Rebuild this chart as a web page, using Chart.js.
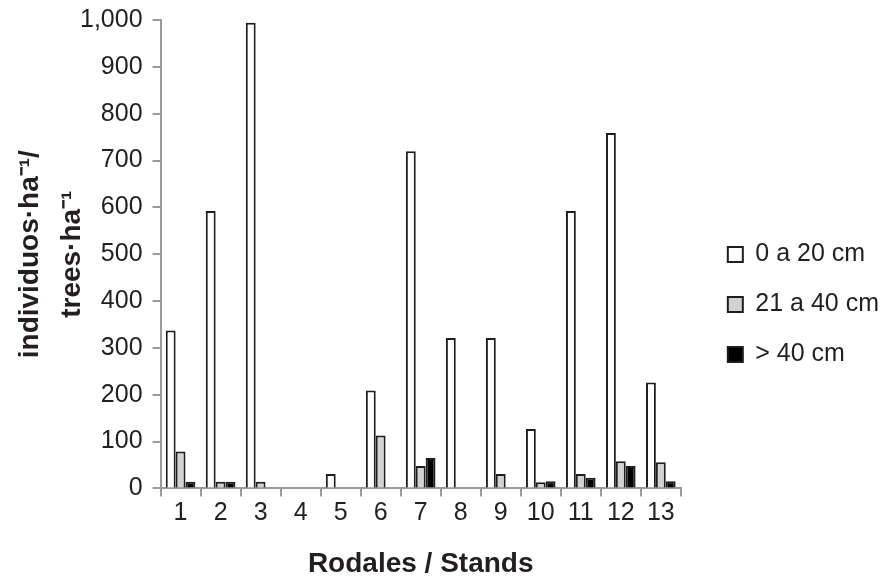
<!DOCTYPE html>
<html lang="es">
<head>
  <meta charset="UTF-8" />
  <title>Individuos por rodal</title>
  <script src="https://cdn.jsdelivr.net/npm/chart.js"></script>
  <style>
    body { margin: 0; background: #fff; }
    .wrap { width: 884px; height: 578px; position: relative; }
  </style>
</head>
<body>
  <div class="wrap"><canvas id="chart"></canvas></div>

  <script>
    // datos
    const rodales = ['1', '2', '3', '4', '5', '6', '7', '8', '9', '10', '11', '12', '13'];
    const clase0a20 = [337, 592, 994, 0, 31, 209, 720, 321, 321, 127, 592, 759, 226];
    const clase21a40 = [79, 14, 14, 0, 0, 113, 48, 0, 31, 13, 31, 58, 56];
    const claseMas40 = [14, 14, 0, 0, 0, 0, 65, 0, 0, 15, 23, 48, 15];

    const ink = '#231f20';
    const axisGray = '#9a9a9a';
    const fontName = "'Liberation Sans', Arial, sans-serif";

    // separa la leyenda del área del gráfico (como en la figura original)
    const legendGap = 22;
    const legendShift = {
      id: 'legendShift',
      afterLayout(chart) {
        chart.legend.left += legendGap;
        chart.legend.right += legendGap;
      }
    };

    function serie(label, data, fill) {
      return {
        label: label,
        data: data,
        backgroundColor: fill,
        borderColor: '#1e1e1e',
        borderWidth: 2,
        borderSkipped: 'start',
        categoryPercentage: 0.74,
        barPercentage: 1.0
      };
    }

    new Chart(document.getElementById('chart'), {
      type: 'bar',
      data: {
        labels: rodales,
        datasets: [
          serie('0 a 20 cm', clase0a20, '#ffffff'),
          serie('21 a 40 cm', clase21a40, '#d2d2d2'),
          serie('> 40 cm', claseMas40, '#000000')
        ]
      },
      plugins: [legendShift],
      options: {
        responsive: true,
        maintainAspectRatio: false,
        animation: false,
        layout: { padding: { top: 3, right: legendGap - 5, left: 6, bottom: 0 } },
        plugins: {
          tooltip: { enabled: false },
          legend: {
            position: 'right',
            align: 'center',
            title: { display: true, text: ' ', padding: { top: 16, bottom: 0 }, font: { size: 10 } },
            labels: {
              color: ink,
              font: { family: fontName, size: 25 },
              boxWidth: 15,
              boxHeight: 15,
              padding: 25
            }
          }
        },
        scales: {
          x: {
            grid: {
              display: true,
              drawOnChartArea: false,
              offset: true,
              tickLength: 8,
              color: axisGray,
              lineWidth: 2
            },
            border: { display: true, color: axisGray, width: 2 },
            ticks: {
              color: ink,
              font: { family: fontName, size: 25 },
              padding: 2,
              maxRotation: 0
            },
            title: {
              display: true,
              text: 'Rodales / Stands',
              color: ink,
              font: { family: fontName, size: 28, weight: 'bold' },
              padding: { top: 17, bottom: -3 }
            }
          },
          y: {
            min: 0,
            max: 1000,
            ticks: {
              stepSize: 100,
              color: ink,
              font: { family: fontName, size: 25, lineHeight: 0.8 },
              padding: 10,
              callback: v => v.toLocaleString('en-US')
            },
            grid: {
              display: true,
              drawOnChartArea: false,
              tickLength: 8,
              color: axisGray,
              lineWidth: 2
            },
            border: { display: true, color: axisGray, width: 2 },
            title: {
              display: true,
              text: ['individuos·ha⁻¹/', 'trees·ha⁻¹'],
              color: ink,
              font: { family: fontName, size: 28, weight: 'bold', lineHeight: 1.5 },
              padding: { top: 3, bottom: -23 }
            }
          }
        }
      }
    });
  </script>
</body>
</html>
